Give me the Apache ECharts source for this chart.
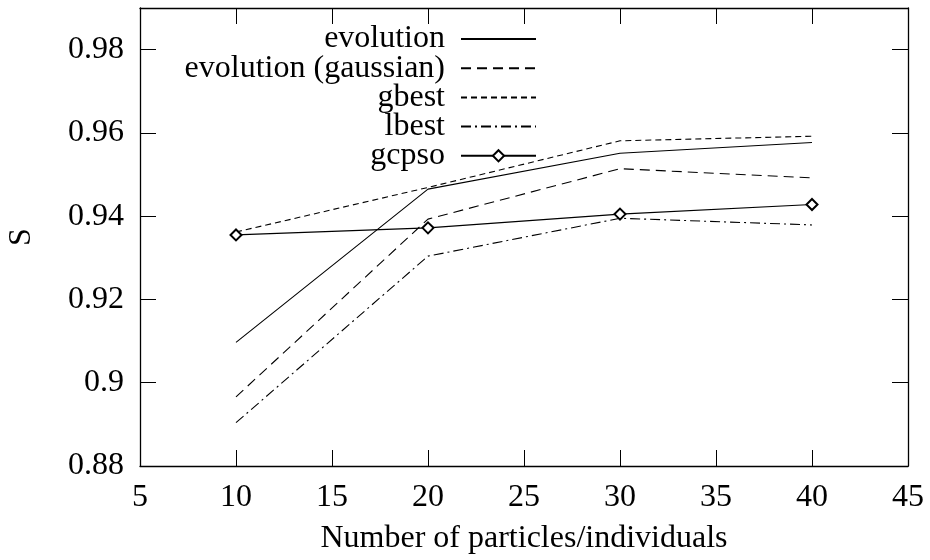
<!DOCTYPE html>
<html>
<head>
<meta charset="utf-8">
<script src="https://cdn.jsdelivr.net/npm/echarts@6/dist/echarts.min.js"></script>
<style>html,body{margin:0;padding:0;background:#fff}#c{width:930px;height:560px}</style>
</head>
<body>
<div id="c"></div>
<script>
const particles = [10, 20, 30, 40];
const evolution = [0.9097, 0.9465, 0.9551, 0.9577];
const evolutionGaussian = [0.8966, 0.9393, 0.9514, 0.9492];
const gbest = [0.9362, 0.9469, 0.9581, 0.9592];
const lbest = [0.8904, 0.9304, 0.9395, 0.9379];
const gcpso = [0.9355, 0.9372, 0.9405, 0.9428];
const seriesNames = ['evolution', 'evolution (gaussian)', 'gbest', 'lbest', 'gcpso'];

const FONT = 'Liberation Serif';
const FS = 32;
const pair = arr => particles.map((x, i) => [x, arr[i]]);

const chart = echarts.init(document.getElementById('c'), null, {renderer: 'canvas'});
const baseLine = {color: '#000', width: 1.1};
const axisCommon = {
  axisLine: {show: true, onZero: false, lineStyle: {color: '#000', width: 1.3}},
  axisTick: {show: true, inside: true, length: 16, lineStyle: {color: '#000', width: 1}},
  splitLine: {show: false}
};
chart.setOption({
  animation: false,
  backgroundColor: '#fff',
  textStyle: {fontFamily: FONT, color: '#000'},
  grid: {left: 140, right: 22, top: 8, bottom: 94, outerBoundsMode: 'none', containLabel: false},
  legend: {
    orient: 'vertical',
    align: 'right',
    right: 393,
    top: 23,
    padding: 0,
    itemWidth: 75,
    itemHeight: 14,
    itemGap: -2.8,
    textStyle: {fontFamily: FONT, fontSize: FS, color: '#000', lineHeight: 29, padding: [0, 11, 0, 0]},
    data: seriesNames.map((n, i) => i < 4 ? {name: n, itemStyle: {opacity: 0}} : {name: n})
  },
  xAxis: [
    Object.assign({
      type: 'value', min: 5, max: 45, interval: 5, position: 'bottom',
      name: 'Number of particles/individuals', nameLocation: 'middle', nameGap: 57,
      nameTextStyle: {fontFamily: FONT, fontSize: FS, color: '#000'},
      axisLabel: {fontFamily: FONT, fontSize: FS, color: '#000', margin: 16}
    }, axisCommon),
    Object.assign({
      type: 'value', min: 5, max: 45, interval: 5, position: 'top',
      axisLabel: {show: false}
    }, axisCommon)
  ],
  yAxis: [
    Object.assign({
      type: 'value', min: 0.88, max: 0.99, interval: 0.02, position: 'left',
      name: 'S', nameLocation: 'middle', nameGap: 102, nameRotate: 90,
      nameTextStyle: {fontFamily: FONT, fontSize: FS, color: '#000'},
      axisLabel: {fontFamily: FONT, fontSize: FS, color: '#000', margin: 16, showMaxLabel: false}
    }, axisCommon),
    Object.assign({
      type: 'value', min: 0.88, max: 0.99, interval: 0.02, position: 'right',
      axisLabel: {show: false}
    }, axisCommon)
  ],
  series: [
    {name: seriesNames[0], type: 'line', data: pair(evolution), symbol: 'none',
      lineStyle: Object.assign({type: 'solid'}, baseLine), itemStyle: {color: '#000'}},
    {name: seriesNames[1], type: 'line', data: pair(evolutionGaussian), symbol: 'none',
      lineStyle: Object.assign({type: [10, 6]}, baseLine), itemStyle: {color: '#000'}},
    {name: seriesNames[2], type: 'line', data: pair(gbest), symbol: 'none',
      lineStyle: Object.assign({type: [6, 4]}, baseLine), itemStyle: {color: '#000'}},
    {name: seriesNames[3], type: 'line', data: pair(lbest), symbol: 'none',
      lineStyle: Object.assign({type: [10, 4, 2, 4]}, baseLine), itemStyle: {color: '#000'}},
    {name: seriesNames[4], type: 'line', data: pair(gcpso), symbol: 'emptyDiamond', symbolSize: 11,
      showAllSymbol: true,
      lineStyle: Object.assign({type: 'solid'}, baseLine),
      itemStyle: {color: '#000', borderColor: '#000', borderWidth: 1.1}}
  ]
});
</script>
</body>
</html>
